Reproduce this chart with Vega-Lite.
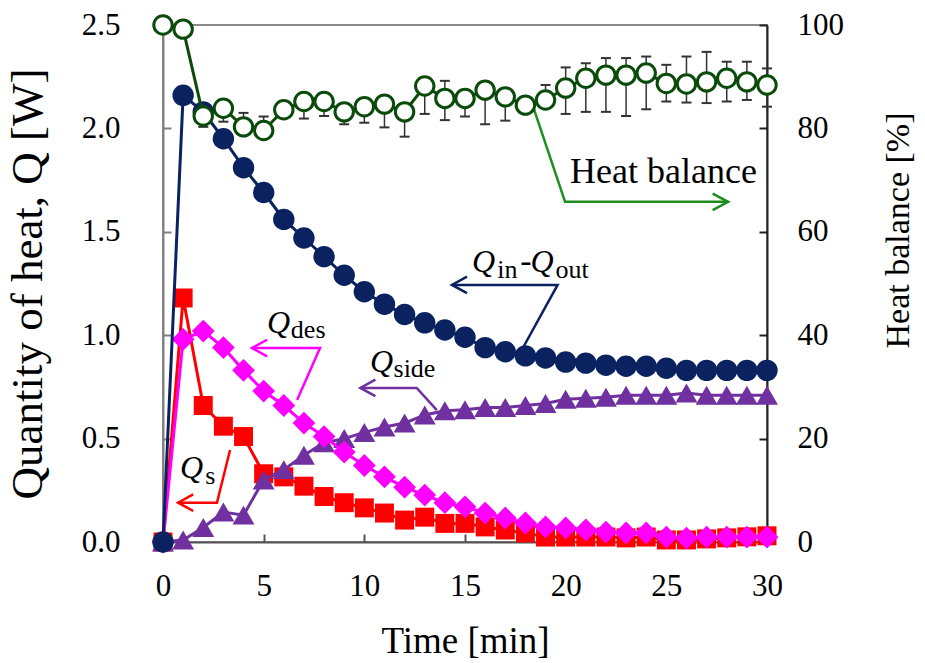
{
  "$schema": "https://vega.github.io/schema/vega-lite/v6.json",
  "width": 604,
  "height": 517,
  "autosize": {"type": "none"},
  "padding": {"left": 163, "top": 25, "right": 158, "bottom": 121},
  "config": {
    "font": "Liberation Serif",
    "view": {"stroke": "#8a8a8a", "strokeWidth": 2},
    "axis": {
      "grid": false,
      "labelFont": "Liberation Serif",
      "titleFont": "Liberation Serif",
      "labelColor": "#000000",
      "titleColor": "#000000",
      "titleFontWeight": "normal",
      "labelFontSize": 31,
      "titleFontSize": 36,
      "tickSize": -8,
      "tickWidth": 2,
      "domainWidth": 2,
      "domainColor": "#555555",
      "tickColor": "#555555",
      "labelFlush": false,
      "labelOverlap": false
    }
  },
  "datasets": {
    "main": [
      {"t": 0, "qnet": 0, "qs": 0, "qdes": 0, "qside": 0, "hb": 100, "lo": 100, "hi": 100},
      {"t": 1, "qnet": 2.16, "qs": 1.18, "qdes": 0.98, "qside": 0.01, "hb": 99.2, "lo": 99.2, "hi": 99.2},
      {"t": 2, "qnet": 2.08, "qs": 0.66, "qdes": 1.02, "qside": 0.07, "hb": 82.4, "lo": 80.3, "hi": 82.4},
      {"t": 3, "qnet": 1.95, "qs": 0.56, "qdes": 0.94, "qside": 0.145, "hb": 83.9, "lo": 81.3, "hi": 83.9},
      {"t": 4, "qnet": 1.81, "qs": 0.51, "qdes": 0.83, "qside": 0.13, "hb": 80.3, "lo": 80.3, "hi": 83.0},
      {"t": 5, "qnet": 1.69, "qs": 0.33, "qdes": 0.73, "qside": 0.3, "hb": 79.6, "lo": 79.6, "hi": 82.3},
      {"t": 6, "qnet": 1.56, "qs": 0.315, "qdes": 0.66, "qside": 0.35, "hb": 83.6, "lo": 83.6, "hi": 83.6},
      {"t": 7, "qnet": 1.47, "qs": 0.27, "qdes": 0.575, "qside": 0.42, "hb": 85.2, "lo": 81.9, "hi": 85.2},
      {"t": 8, "qnet": 1.38, "qs": 0.22, "qdes": 0.51, "qside": 0.48, "hb": 85.2, "lo": 82.4, "hi": 85.2},
      {"t": 9, "qnet": 1.29, "qs": 0.19, "qdes": 0.435, "qside": 0.5, "hb": 83.2, "lo": 80.8, "hi": 83.2},
      {"t": 10, "qnet": 1.21, "qs": 0.165, "qdes": 0.37, "qside": 0.53, "hb": 84.2, "lo": 81.1, "hi": 84.2},
      {"t": 11, "qnet": 1.15, "qs": 0.14, "qdes": 0.315, "qside": 0.556, "hb": 84.7, "lo": 80.2, "hi": 84.7},
      {"t": 12, "qnet": 1.1, "qs": 0.106, "qdes": 0.265, "qside": 0.575, "hb": 83.2, "lo": 78.4, "hi": 83.2},
      {"t": 13, "qnet": 1.06, "qs": 0.12, "qdes": 0.227, "qside": 0.614, "hb": 88.2, "lo": 82.8, "hi": 88.2},
      {"t": 14, "qnet": 1.025, "qs": 0.09, "qdes": 0.19, "qside": 0.635, "hb": 85.8, "lo": 81.6, "hi": 89.2},
      {"t": 15, "qnet": 0.99, "qs": 0.09, "qdes": 0.17, "qside": 0.64, "hb": 85.8, "lo": 82.3, "hi": 85.8},
      {"t": 16, "qnet": 0.94, "qs": 0.073, "qdes": 0.14, "qside": 0.65, "hb": 87.4, "lo": 80.8, "hi": 87.4},
      {"t": 17, "qnet": 0.92, "qs": 0.058, "qdes": 0.116, "qside": 0.65, "hb": 86.1, "lo": 81.5, "hi": 86.1},
      {"t": 18, "qnet": 0.9, "qs": 0.044, "qdes": 0.092, "qside": 0.66, "hb": 84.5, "lo": 84.5, "hi": 84.5},
      {"t": 19, "qnet": 0.89, "qs": 0.024, "qdes": 0.073, "qside": 0.67, "hb": 85.5, "lo": 85.5, "hi": 88.4},
      {"t": 20, "qnet": 0.87, "qs": 0.024, "qdes": 0.068, "qside": 0.69, "hb": 87.8, "lo": 82.8, "hi": 91.8},
      {"t": 21, "qnet": 0.865, "qs": 0.024, "qdes": 0.058, "qside": 0.695, "hb": 89.7, "lo": 83.2, "hi": 92.6},
      {"t": 22, "qnet": 0.855, "qs": 0.024, "qdes": 0.048, "qside": 0.7, "hb": 90.3, "lo": 83.2, "hi": 93.6},
      {"t": 23, "qnet": 0.85, "qs": 0.02, "qdes": 0.044, "qside": 0.71, "hb": 90.3, "lo": 82.4, "hi": 93.6},
      {"t": 24, "qnet": 0.85, "qs": 0.024, "qdes": 0.044, "qside": 0.71, "hb": 90.7, "lo": 83.7, "hi": 93.9},
      {"t": 25, "qnet": 0.84, "qs": 0.01, "qdes": 0.024, "qside": 0.71, "hb": 88.7, "lo": 85.2, "hi": 92.3},
      {"t": 26, "qnet": 0.83, "qs": 0.01, "qdes": 0.019, "qside": 0.72, "hb": 88.6, "lo": 85.0, "hi": 93.9},
      {"t": 27, "qnet": 0.83, "qs": 0.015, "qdes": 0.024, "qside": 0.71, "hb": 89.0, "lo": 84.9, "hi": 94.8},
      {"t": 28, "qnet": 0.83, "qs": 0.02, "qdes": 0.024, "qside": 0.71, "hb": 89.7, "lo": 85.2, "hi": 92.9},
      {"t": 29, "qnet": 0.83, "qs": 0.025, "qdes": 0.024, "qside": 0.71, "hb": 89.0, "lo": 85.5, "hi": 92.9},
      {"t": 30, "qnet": 0.83, "qs": 0.03, "qdes": 0.024, "qside": 0.71, "hb": 88.4, "lo": 84.2, "hi": 91.6}
    ],
    "arrows": [
      {"a": "hb", "p": "shaft", "o": 1, "t": 18.4, "q": 2.1},
      {"a": "hb", "p": "shaft", "o": 2, "t": 19.97, "q": 1.645},
      {"a": "hb", "p": "shaft", "o": 3, "t": 28.07, "q": 1.645},
      {"a": "hb", "p": "head", "o": 1, "t": 27.3, "q": 1.685},
      {"a": "hb", "p": "head", "o": 2, "t": 28.07, "q": 1.645},
      {"a": "hb", "p": "head", "o": 3, "t": 27.3, "q": 1.605},
      {"a": "net", "p": "shaft", "o": 1, "t": 17.9, "q": 0.943},
      {"a": "net", "p": "shaft", "o": 2, "t": 19.6, "q": 1.243},
      {"a": "net", "p": "shaft", "o": 3, "t": 14.35, "q": 1.243},
      {"a": "net", "p": "head", "o": 1, "t": 15.1, "q": 1.283},
      {"a": "net", "p": "head", "o": 2, "t": 14.35, "q": 1.243},
      {"a": "net", "p": "head", "o": 3, "t": 15.1, "q": 1.203},
      {"a": "des", "p": "shaft", "o": 1, "t": 6.66, "q": 0.687},
      {"a": "des", "p": "shaft", "o": 2, "t": 7.8, "q": 0.938},
      {"a": "des", "p": "shaft", "o": 3, "t": 4.42, "q": 0.938},
      {"a": "des", "p": "head", "o": 1, "t": 5.17, "q": 0.978},
      {"a": "des", "p": "head", "o": 2, "t": 4.42, "q": 0.938},
      {"a": "des", "p": "head", "o": 3, "t": 5.17, "q": 0.898},
      {"a": "side", "p": "shaft", "o": 1, "t": 13.6, "q": 0.638},
      {"a": "side", "p": "shaft", "o": 2, "t": 12.6, "q": 0.745},
      {"a": "side", "p": "shaft", "o": 3, "t": 9.8, "q": 0.745},
      {"a": "side", "p": "head", "o": 1, "t": 10.55, "q": 0.785},
      {"a": "side", "p": "head", "o": 2, "t": 9.8, "q": 0.745},
      {"a": "side", "p": "head", "o": 3, "t": 10.55, "q": 0.705},
      {"a": "s", "p": "shaft", "o": 1, "t": 3.33, "q": 0.445},
      {"a": "s", "p": "shaft", "o": 2, "t": 2.68, "q": 0.19},
      {"a": "s", "p": "shaft", "o": 3, "t": 0.75, "q": 0.19},
      {"a": "s", "p": "head", "o": 1, "t": 1.5, "q": 0.23},
      {"a": "s", "p": "head", "o": 2, "t": 0.75, "q": 0.19},
      {"a": "s", "p": "head", "o": 3, "t": 1.5, "q": 0.15}
    ],
    "labels": [
      {"s": "Q", "k": "it", "t": 15.35, "q": 1.306},
      {"s": "in", "k": "sub", "t": 16.6, "q": 1.277},
      {"s": "-", "k": "big", "t": 17.75, "q": 1.306},
      {"s": "Q", "k": "it", "t": 18.25, "q": 1.306},
      {"s": "out", "k": "sub", "t": 19.5, "q": 1.277},
      {"s": "Q", "k": "it", "t": 5.17, "q": 1.011},
      {"s": "des", "k": "sub", "t": 6.35, "q": 0.986},
      {"s": "Q", "k": "it", "t": 10.28, "q": 0.822},
      {"s": "side", "k": "sub", "t": 11.45, "q": 0.798},
      {"s": "Q", "k": "it", "t": 0.84, "q": 0.309},
      {"s": "s", "k": "sub", "t": 2.1, "q": 0.28},
      {"s": "Heat balance", "k": "hbtxt", "t": 20.22, "q": 1.736}
    ]
  },
  "data": {"name": "main"},
  "encoding": {
    "x": {
      "field": "t",
      "type": "quantitative",
      "scale": {"domain": [0, 30], "nice": false},
      "axis": {
        "title": "Time [min]",
        "values": [0, 5, 10, 15, 20, 25, 30],
        "labelPadding": 37,
        "titlePadding": 22,
        "titleFontSize": 37,
        "domainColor": "#555555"
      }
    }
  },
  "layer": [
    {
      "data": {"name": "arrows"},
      "mark": {"type": "line", "strokeWidth": 2.5},
      "encoding": {
        "y": {"field": "q", "type": "quantitative", "scale": {"domain": [0, 2.5], "nice": false}, "axis": null},
        "detail": [{"field": "a"}, {"field": "p"}],
        "order": {"field": "o"},
        "color": {
          "field": "a",
          "type": "nominal",
          "scale": {
            "domain": ["hb", "net", "des", "side", "s"],
            "range": ["#1e8c1e", "#0a2260", "#ff00ff", "#7030a0", "#ff0000"]
          },
          "legend": null
        }
      }
    },
    {
      "mark": {"type": "line", "color": "#ff0000", "strokeWidth": 3,
               "point": {"shape": "square", "size": 360, "filled": true, "opacity": 1, "color": "#ff0000"}},
      "encoding": {"y": {"field": "qs", "type": "quantitative", "scale": {"domain": [0, 2.5], "nice": false}, "axis": null}}
    },
    {
      "mark": {"type": "line", "color": "#7030a0", "strokeWidth": 3,
               "point": {"shape": "triangle-up", "size": 480, "filled": true, "opacity": 1, "color": "#7030a0"}},
      "encoding": {"y": {"field": "qside", "type": "quantitative", "scale": {"domain": [0, 2.5], "nice": false}, "axis": null}}
    },
    {
      "mark": {"type": "line", "color": "#ff00ff", "strokeWidth": 3,
               "point": {"shape": "diamond", "size": 520, "filled": true, "opacity": 1, "color": "#ff00ff"}},
      "encoding": {"y": {"field": "qdes", "type": "quantitative", "scale": {"domain": [0, 2.5], "nice": false}, "axis": null}}
    },
    {
      "mark": {"type": "line", "color": "#0a2260", "strokeWidth": 3,
               "point": {"shape": "circle", "size": 460, "filled": true, "opacity": 1, "color": "#0a2260"}},
      "encoding": {
        "y": {
          "field": "qnet",
          "type": "quantitative",
          "scale": {"domain": [0, 2.5], "nice": false},
          "axis": {
            "orient": "left",
            "title": "Quantity of heat, Q [W]",
            "values": [0, 0.5, 1, 1.5, 2, 2.5],
            "format": ".1f",
            "labelPadding": 51,
            "titlePadding": 31,
            "titleFontSize": 45,
            "domainColor": "#808080",
            "tickColor": "#808080"
          }
        }
      }
    },
    {
      "data": {"name": "labels"},
      "transform": [{"filter": "datum.k === 'it'"}],
      "mark": {"type": "text", "align": "left", "baseline": "alphabetic", "fontSize": 32, "fontStyle": "italic", "font": "Liberation Serif", "color": "#000000"},
      "encoding": {
        "y": {"field": "q", "type": "quantitative", "scale": {"domain": [0, 2.5], "nice": false}, "axis": null},
        "text": {"field": "s"}
      }
    },
    {
      "data": {"name": "labels"},
      "transform": [{"filter": "datum.k === 'sub'"}],
      "mark": {"type": "text", "align": "left", "baseline": "alphabetic", "fontSize": 26, "font": "Liberation Serif", "color": "#000000"},
      "encoding": {
        "y": {"field": "q", "type": "quantitative", "scale": {"domain": [0, 2.5], "nice": false}, "axis": null},
        "text": {"field": "s"}
      }
    },
    {
      "data": {"name": "labels"},
      "transform": [{"filter": "datum.k === 'big'"}],
      "mark": {"type": "text", "align": "left", "baseline": "alphabetic", "fontSize": 34, "font": "Liberation Serif", "color": "#000000"},
      "encoding": {
        "y": {"field": "q", "type": "quantitative", "scale": {"domain": [0, 2.5], "nice": false}, "axis": null},
        "text": {"field": "s"}
      }
    },
    {
      "data": {"name": "labels"},
      "transform": [{"filter": "datum.k === 'hbtxt'"}],
      "mark": {"type": "text", "align": "left", "baseline": "alphabetic", "fontSize": 36, "font": "Liberation Serif", "color": "#000000"},
      "encoding": {
        "y": {"field": "q", "type": "quantitative", "scale": {"domain": [0, 2.5], "nice": false}, "axis": null},
        "text": {"field": "s"}
      }
    },
    {
      "mark": {"type": "rule", "color": "#333333", "strokeWidth": 1.5},
      "encoding": {
        "y": {"field": "lo", "type": "quantitative", "scale": {"domain": [0, 100], "nice": false}, "axis": null},
        "y2": {"field": "hi"}
      }
    },
    {
      "transform": [{"filter": "datum.lo < datum.hb"}],
      "mark": {"type": "tick", "orient": "horizontal", "color": "#333333", "size": 10, "thickness": 2, "opacity": 1},
      "encoding": {"y": {"field": "lo", "type": "quantitative", "scale": {"domain": [0, 100], "nice": false}, "axis": null}}
    },
    {
      "transform": [{"filter": "datum.hi > datum.hb"}],
      "mark": {"type": "tick", "orient": "horizontal", "color": "#333333", "size": 10, "thickness": 2, "opacity": 1},
      "encoding": {"y": {"field": "hi", "type": "quantitative", "scale": {"domain": [0, 100], "nice": false}, "axis": null}}
    },
    {
      "mark": {"type": "line", "color": "#0a4a0a", "strokeWidth": 3},
      "encoding": {
        "y": {
          "field": "hb",
          "type": "quantitative",
          "scale": {"domain": [0, 100], "nice": false},
          "axis": {
            "orient": "right",
            "title": "Heat balance [%]",
            "values": [0, 20, 40, 60, 80, 100],
            "format": "d",
            "labelPadding": 38,
            "titlePadding": 38,
            "titleAngle": 270,
            "titleBaseline": "top",
            "titleY": 205,
            "titleFontSize": 34,
            "domainColor": "#222222",
            "tickColor": "#222222"
          }
        }
      }
    },
    {
      "mark": {"type": "point", "shape": "circle", "size": 340, "filled": true, "fill": "#ffffff", "stroke": "#0a4a0a", "strokeWidth": 3, "opacity": 1},
      "encoding": {"y": {"field": "hb", "type": "quantitative", "scale": {"domain": [0, 100], "nice": false}, "axis": null}}
    }
  ],
  "resolve": {"scale": {"y": "independent"}}
}
